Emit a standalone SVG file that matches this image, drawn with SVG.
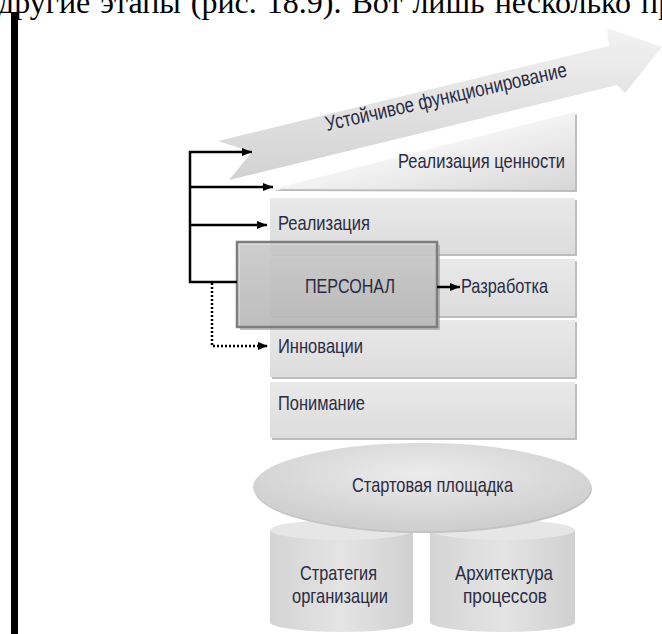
<svg xmlns="http://www.w3.org/2000/svg" width="662" height="634" viewBox="0 0 662 634">
  <defs>
    <style>
      .lbl { font-family: "Liberation Sans", Arial, sans-serif; font-size: 21px; fill: #2b2b45; }
      .panel { fill: url(#panelFill); }
      .shadow { fill: #bdbdbd; }
      .conn { fill: none; stroke: #000; stroke-width: 2.5; }
      .dots { fill: none; stroke: #000; stroke-width: 2.5; stroke-dasharray: 2 2; }
      .body { font-family: "Liberation Serif", "Times New Roman", serif; font-size: 32px; word-spacing: 2px; fill: #000; }
    </style>
    <linearGradient id="panelFill" x1="0" y1="0" x2="0" y2="1">
      <stop offset="0" stop-color="#e9e9e9"/>
      <stop offset="1" stop-color="#dcdcdc"/>
    </linearGradient>
    <linearGradient id="valueFill" x1="0" y1="0" x2="1" y2="1">
      <stop offset="0.3" stop-color="#ffffff"/>
      <stop offset="1" stop-color="#d6d6d6"/>
    </linearGradient>
    <linearGradient id="bandFill" x1="0" y1="0" x2="0" y2="1">
      <stop offset="0" stop-color="#f2f2f2"/>
      <stop offset="1" stop-color="#d2d2d2"/>
    </linearGradient>
    <linearGradient id="boxFill" x1="0" y1="0" x2="0" y2="1">
      <stop offset="0" stop-color="#d2d2d2"/>
      <stop offset="1" stop-color="#bcbcbc"/>
    </linearGradient>
    <radialGradient id="padFill" cx="0.5" cy="0.35" r="0.6">
      <stop offset="0" stop-color="#ececec"/>
      <stop offset="1" stop-color="#cfcfcf"/>
    </radialGradient>
    <linearGradient id="cylFill" x1="0" y1="0" x2="1" y2="0">
      <stop offset="0" stop-color="#d4d4d4"/>
      <stop offset="0.5" stop-color="#e4e4e4"/>
      <stop offset="1" stop-color="#d0d0d0"/>
    </linearGradient>
    <marker id="arrow" viewBox="0 0 10 8" refX="10" refY="4" markerWidth="10" markerHeight="8" markerUnits="userSpaceOnUse" orient="auto">
      <path d="M0,0 L10,4 L0,8 z" fill="#000"/>
    </marker>
  </defs>

  <rect width="662" height="634" fill="#fff"/>

  <!-- running text line and page rule -->
  <text class="body" x="-2" y="13">другие этапы (рис. 18.9). Вот лишь несколько пр</text>
  <rect x="11" y="12" width="7" height="622" fill="#000"/>

  <!-- cylinders -->
  <g id="strategy">
    <path d="M270,530 V622 A71.5,10 0 0 0 413,622 V530 Z" fill="url(#cylFill)"/>
    <ellipse cx="341.5" cy="530" rx="71.5" ry="10" fill="#e6e6e6"/>
    <text class="lbl" x="300" y="580" textLength="77" lengthAdjust="spacingAndGlyphs">Стратегия</text>
    <text class="lbl" x="292" y="603" textLength="96" lengthAdjust="spacingAndGlyphs">организации</text>
  </g>
  <g id="process-architecture">
    <path d="M430,530 V622 A72.5,10 0 0 0 575,622 V530 Z" fill="url(#cylFill)"/>
    <ellipse cx="502.5" cy="530" rx="72.5" ry="10" fill="#e6e6e6"/>
    <text class="lbl" x="455" y="580" textLength="98" lengthAdjust="spacingAndGlyphs">Архитектура</text>
    <text class="lbl" x="463" y="603" textLength="84" lengthAdjust="spacingAndGlyphs">процессов</text>
  </g>

  <!-- launch pad -->
  <g id="launch-pad">
    <ellipse cx="423" cy="489" rx="169" ry="44" fill="#c4c4c4"/>
    <ellipse cx="422" cy="487" rx="169" ry="44" fill="url(#padFill)"/>
    <text class="lbl" x="352" y="492" textLength="161" lengthAdjust="spacingAndGlyphs">Стартовая площадка</text>
  </g>

  <!-- stage panels -->
  <g id="understanding">
    <rect class="shadow" x="272" y="384" width="305" height="56"/>
    <rect class="panel" x="270" y="382" width="305" height="56"/>
    <text class="lbl" x="278" y="410" textLength="87" lengthAdjust="spacingAndGlyphs">Понимание</text>
  </g>
  <g id="innovation">
    <rect class="shadow" x="272" y="322" width="305" height="57"/>
    <rect class="panel" x="270" y="320" width="305" height="57"/>
    <text class="lbl" x="278" y="353" textLength="85" lengthAdjust="spacingAndGlyphs">Инновации</text>
  </g>
  <g id="development">
    <rect class="shadow" x="272" y="261" width="305" height="57"/>
    <rect class="panel" x="270" y="259" width="305" height="57"/>
    <text class="lbl" x="461" y="293" textLength="87" lengthAdjust="spacingAndGlyphs">Разработка</text>
  </g>
  <g id="realization">
    <rect class="shadow" x="272" y="200" width="305" height="56"/>
    <rect class="panel" x="270" y="198" width="305" height="56"/>
    <text class="lbl" x="278" y="230" textLength="92" lengthAdjust="spacingAndGlyphs">Реализация</text>
  </g>
  <g id="value-realization">
    <polygon points="274,191 577,114 577,192" fill="#bdbdbd"/>
    <polygon points="272,189 575,112 575,190" fill="url(#valueFill)"/>
    <text class="lbl" x="398" y="168" textLength="167" lengthAdjust="spacingAndGlyphs">Реализация ценности</text>
  </g>

  <!-- sustained operation band -->
  <g id="sustained-operation">
    <polygon points="218,141 609,46 607,28 662,47 625,93 617,85 229,180 252,152" fill="url(#bandFill)"/>
    <text class="lbl" transform="translate(327,131) rotate(-12.8)" x="0" y="0" textLength="247" lengthAdjust="spacingAndGlyphs">Устойчивое функционирование</text>
  </g>

  <!-- personnel box -->
  <g id="personnel">
    <rect x="240" y="245" width="200" height="85" fill="#9a9a9a" opacity="0.6"/>
    <rect x="237" y="242" width="200" height="85" fill="url(#boxFill)" fill-opacity="0.72" stroke="#7e7e7e" stroke-width="2.5"/>
    <text class="lbl" x="305" y="293" textLength="90" lengthAdjust="spacingAndGlyphs">ПЕРСОНАЛ</text>
  </g>

  <!-- connectors -->
  <g id="connectors">
    <path class="conn" d="M190,151 V282 H237"/>
    <path class="conn" d="M189,152 H252" marker-end="url(#arrow)"/>
    <path class="conn" d="M190,187 H273" marker-end="url(#arrow)"/>
    <path class="conn" d="M190,225 H267" marker-end="url(#arrow)"/>
    <path class="conn" d="M437,287 H460" marker-end="url(#arrow)"/>
    <path class="dots" d="M212,283 V346 H268" marker-end="url(#arrow)"/>
  </g>
</svg>
